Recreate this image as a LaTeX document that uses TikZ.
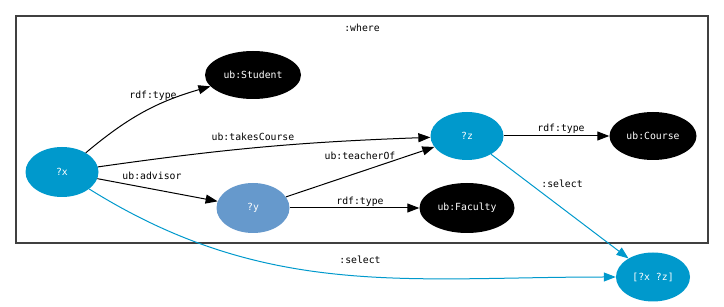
\documentclass[tikz,border=0pt]{standalone}
\usepackage{fontspec}
\setmonofont{DejaVu Sans Mono}
\usepackage{xcolor}
\usepackage{tikz}
\usetikzlibrary{shapes.geometric,arrows.meta}
\definecolor{qvar}{HTML}{0099CC}
\definecolor{qvarb}{HTML}{6699CC}
\definecolor{frame}{HTML}{404040}
\newcommand{\lbl}{\ttfamily\fontsize{9.8}{11}\selectfont}
\tikzset{
  node/.style={ellipse, inner sep=0pt, text=white, font=\lbl},
  res/.style={node, fill=black},
  var/.style={node, fill=qvar},
  varb/.style={node, fill=qvarb},
  rel/.style={draw=black, line width=1pt, -{Triangle[length=12pt,width=9pt]}},
  sel/.style={draw=qvar, line width=1pt, -{Triangle[length=12pt,width=9pt]}},
  elab/.style={text=black, font=\lbl, inner sep=0pt},
  cluster/.style={draw=frame, line width=1.3pt},
}

\begin{document}
\begin{tikzpicture}[x=1pt,y=-1pt]
  \useasboundingbox (0,0) rectangle (724,307);
  \draw[cluster] (16,16) rectangle (708,243);
  \node[elab] (where) at (362,28) {:where};

  \node[var, minimum width=73pt, minimum height=50pt] (x) at (62,172) {?x};
  \node[varb, minimum width=73pt, minimum height=50pt] (y) at (253,208) {?y};
  \node[var, minimum width=73pt, minimum height=48pt] (z) at (467,136) {?z};
  \node[res, minimum width=96pt, minimum height=48pt] (student) at (253,75) {ub:Student};
  \node[res, minimum width=87pt, minimum height=48pt] (course) at (653,136) {ub:Course};
  \node[res, minimum width=95pt, minimum height=50pt] (faculty) at (467,208) {ub:Faculty};
  \node[var, minimum width=74pt, minimum height=49pt] (out) at (653,277) {[?x ?z]};

  \draw[rel] (x) to[bend left=12] (student);
  \draw[rel] (x) to[bend left=3] (z);
  \draw[rel] (x) -- (y);
  \draw[rel] (y) -- (z);
  \draw[rel] (y) -- (faculty);
  \draw[rel] (z) -- (course);
  \draw[sel] (z) -- (out);
  \draw[sel] (x) to[out=-32,in=180] (out);

  \node[elab] (t1) at (153,96) {rdf:type};
  \node[elab] (tc) at (253,137) {ub:takesCourse};
  \node[elab] (to) at (360,156) {ub:teacherOf};
  \node[elab] (ad) at (152,176) {ub:advisor};
  \node[elab] (t2) at (360,202) {rdf:type};
  \node[elab] (t3) at (561,129) {rdf:type};
  \node[elab] (s1) at (562,184) {:select};
  \node[elab] (s2) at (360,260) {:select};
\end{tikzpicture}
\end{document}
